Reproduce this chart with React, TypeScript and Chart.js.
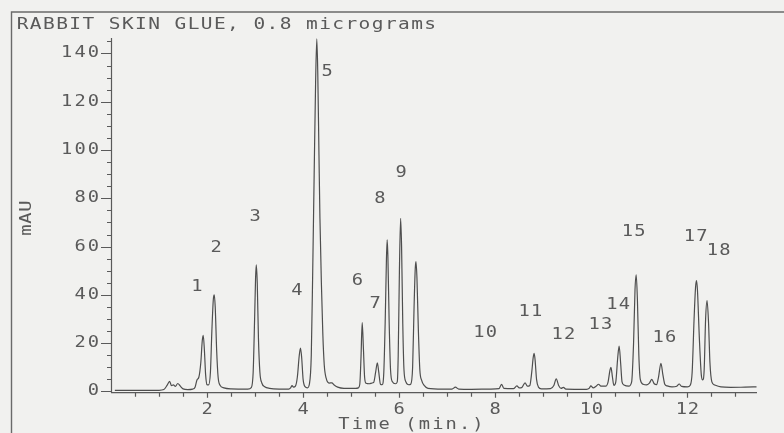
import { useEffect, useRef } from 'react';
import { Chart, registerables } from 'chart.js';

Chart.register(...registerables);

const titleText = 'RABBIT SKIN GLUE, 0.8 micrograms';
const xAxisTitle = 'Time (min.)';
const yAxisTitle = 'mAU';

// chromatogram trace: [time (min), absorbance (mAU)]
const trace: [number, number][] = [
  [0.08, 0.5], [1.0, 0.5], [1.1, 0.8], [1.17, 2.6], [1.22, 4.2], [1.26, 2.4], [1.3, 2.7], [1.34, 2.1],
  [1.39, 3.3], [1.44, 2.3], [1.5, 1.1], [1.6, 0.8], [1.7, 1.0], [1.75, 1.8], [1.79, 4.8], [1.83, 6],
  [1.87, 12], [1.9, 21], [1.92, 23.3], [1.945, 17], [1.97, 7], [2.0, 2.8], [2.03, 2.7], [2.07, 8],
  [2.1, 25], [2.13, 38], [2.15, 40], [2.17, 35], [2.2, 17], [2.23, 6], [2.27, 2.6], [2.35, 1.5],
  [2.5, 1.1], [2.85, 1.0], [2.92, 1.6], [2.96, 8], [2.99, 30], [3.01, 47], [3.025, 52.5], [3.045, 45],
  [3.07, 22], [3.1, 8], [3.14, 3.5], [3.2, 2.0], [3.3, 1.3], [3.5, 1.0], [3.7, 1.0], [3.74, 1.5],
  [3.77, 2.4], [3.8, 1.8], [3.84, 2.2], [3.88, 6], [3.92, 15], [3.945, 18], [3.97, 14], [4.0, 5],
  [4.04, 2], [4.09, 1.5], [4.13, 3], [4.17, 15], [4.2, 50], [4.23, 90], [4.26, 128], [4.285, 146],
  [4.305, 132], [4.33, 98], [4.35, 72], [4.38, 45], [4.41, 24], [4.44, 11], [4.48, 5.5], [4.54, 3.5],
  [4.6, 3.6], [4.64, 2.8], [4.72, 1.8], [4.85, 1.3], [5.1, 1.3], [5.15, 1.5], [5.18, 3], [5.205, 14],
  [5.23, 28.5], [5.255, 18], [5.28, 6], [5.31, 3.4], [5.38, 3.2], [5.43, 3.5], [5.47, 3.8], [5.51, 8],
  [5.545, 11.9], [5.575, 8], [5.61, 3], [5.645, 2.8], [5.68, 8], [5.71, 30], [5.735, 55], [5.75, 62.8],
  [5.765, 56], [5.79, 30], [5.82, 9], [5.86, 4], [5.92, 3.2], [5.96, 4], [5.98, 15], [6.005, 50],
  [6.03, 71.7], [6.05, 60], [6.075, 28], [6.1, 9], [6.14, 4], [6.2, 2.8], [6.24, 3], [6.28, 10],
  [6.31, 35], [6.335, 51], [6.35, 53.8], [6.37, 47], [6.4, 25], [6.43, 9], [6.47, 4.5], [6.52, 2.5],
  [6.6, 1.3], [6.9, 1.0], [7.1, 1.0], [7.17, 1.8], [7.24, 1.0], [7.5, 0.9], [7.9, 1.0], [8.08, 1.2],
  [8.13, 3.0], [8.18, 1.3], [8.38, 1.2], [8.45, 2.3], [8.5, 1.5], [8.56, 1.8], [8.62, 3.6], [8.67, 2.2],
  [8.72, 2.5], [8.76, 8], [8.79, 14], [8.81, 15.8], [8.83, 13], [8.86, 5], [8.9, 1.8], [8.96, 1.1],
  [9.15, 1.2], [9.22, 2.5], [9.27, 5.2], [9.32, 2.5], [9.37, 1.3], [9.42, 1.7], [9.47, 1.0], [9.9, 0.9],
  [9.96, 1.4], [9.99, 2.3], [10.04, 1.5], [10.1, 2.2], [10.15, 3.0], [10.2, 2.2], [10.3, 2.2], [10.35, 4],
  [10.39, 9], [10.41, 10], [10.44, 6], [10.47, 2.5], [10.51, 4], [10.55, 14], [10.58, 18.8], [10.61, 12],
  [10.64, 4], [10.68, 2.7], [10.78, 2.2], [10.84, 4], [10.88, 20], [10.91, 42], [10.935, 48.3], [10.96, 38],
  [10.99, 15], [11.02, 5], [11.08, 3], [11.15, 2.7], [11.21, 3.5], [11.26, 5], [11.31, 3.2], [11.36, 2.8],
  [11.4, 6], [11.45, 11.7], [11.49, 7], [11.53, 3], [11.58, 2.3], [11.68, 1.9], [11.78, 2.2], [11.83, 3.1],
  [11.88, 2.1], [12.0, 1.9], [12.06, 2.6], [12.1, 8], [12.14, 30], [12.17, 43], [12.19, 45.9], [12.21, 42],
  [12.25, 22], [12.29, 7], [12.32, 4.8], [12.35, 9], [12.38, 30], [12.41, 37.6], [12.44, 29], [12.47, 12],
  [12.51, 4], [12.57, 2.7], [12.7, 1.9], [12.9, 1.7], [13.2, 1.8], [13.44, 1.9],
];

const xTickValues = [2, 4, 6, 8, 10, 12];
const xMinorTickValues = [0.5, 1, 1.5, 2.5, 3, 3.5, 4.5, 5, 5.5, 6.5, 7, 7.5, 8.5, 9, 9.5, 10.5, 11, 11.5, 12.5, 13];
const yTickValues = [0, 20, 40, 60, 80, 100, 120, 140];
const yMinorTickValues = [5, 10, 15, 25, 30, 35, 45, 50, 55, 65, 70, 75, 85, 90, 95, 105, 110, 115, 125, 130, 135, 145];

const peakNames = ['1', '2', '3', '4', '5', '6', '7', '8', '9', '10', '11', '12', '13', '14', '15', '16', '17', '18'];
const peakLabelTime = [1.79, 2.19, 3.0, 3.87, 4.5, 5.13, 5.5, 5.6, 6.04, 7.79, 8.73, 9.42, 10.19, 10.56, 10.88, 11.52, 12.17, 12.65];
const peakLabelMAU = [43.3, 59.4, 72.4, 41.6, 132.3, 45.8, 36.2, 79.7, 90.6, 24.2, 33, 23.4, 27.5, 35.8, 66.1, 22.2, 64, 58.2];

const BG = '#f1f1ef';
const INK = '#5a5a5a';
const FONT = '15px "DejaVu Sans Mono", monospace';

function spaced(
  ctx: CanvasRenderingContext2D,
  text: string,
  x: number,
  y: number,
  advance: number,
  align: 'left' | 'center' | 'right',
  sx = 1.25,
) {
  const n = text.length;
  let first: number;
  if (align === 'center') first = x - ((n - 1) * advance) / 2;
  else if (align === 'left') first = x + advance / 2;
  else first = x - (n - 1) * advance - advance / 2;
  ctx.textAlign = 'center';
  ctx.textBaseline = 'middle';
  for (let i = 0; i < n; i++) {
    const ch = text[i];
    if (ch === ' ') continue;
    ctx.save();
    ctx.translate(first + i * advance, y);
    ctx.scale(sx, 1);
    ctx.fillText(ch, 0, 0);
    ctx.restore();
  }
}

const plotterPlugin = {
  id: 'plotter',
  beforeDraw(chart: any) {
    const { ctx, width, height } = chart;
    ctx.save();
    ctx.fillStyle = BG;
    ctx.fillRect(0, 0, width, height);
    ctx.strokeStyle = '#6a6a6a';
    ctx.lineWidth = 1.4;
    ctx.beginPath();
    ctx.moveTo(11.5, height);
    ctx.lineTo(11.5, 12);
    ctx.lineTo(width, 12);
    ctx.stroke();
    ctx.restore();
  },
  afterDraw(chart: any) {
    const { ctx } = chart;
    const xs = chart.scales.x;
    const ys = chart.scales.y;
    const { left, right, top, bottom } = chart.chartArea;
    ctx.save();
    ctx.strokeStyle = INK;
    ctx.fillStyle = INK;
    ctx.lineWidth = 1.2;
    ctx.beginPath();
    ctx.moveTo(left + 0.5, top);
    ctx.lineTo(left + 0.5, bottom);
    ctx.lineTo(right, bottom);
    ctx.stroke();
    ctx.beginPath();
    yTickValues.forEach((v) => {
      const p = Math.round(ys.getPixelForValue(v)) + 0.5;
      ctx.moveTo(left - 10, p);
      ctx.lineTo(left, p);
    });
    yMinorTickValues.forEach((v) => {
      const p = Math.round(ys.getPixelForValue(v)) + 0.5;
      ctx.moveTo(left - 4, p);
      ctx.lineTo(left, p);
    });
    xTickValues.forEach((v) => {
      const p = Math.round(xs.getPixelForValue(v)) + 0.5;
      ctx.moveTo(p, bottom);
      ctx.lineTo(p, bottom + 5);
    });
    xMinorTickValues.forEach((v) => {
      const p = Math.round(xs.getPixelForValue(v)) + 0.5;
      ctx.moveTo(p, bottom);
      ctx.lineTo(p, bottom + 4);
    });
    ctx.stroke();

    ctx.font = FONT;
    yTickValues.forEach((v) => {
      spaced(ctx, String(v), left - 11, ys.getPixelForValue(v), 13.3, 'right');
    });
    xTickValues.forEach((v) => {
      spaced(ctx, String(v), xs.getPixelForValue(v), bottom + 17, 12, 'center');
    });
    peakNames.forEach((name, i) => {
      spaced(ctx, name, xs.getPixelForValue(peakLabelTime[i]), ys.getPixelForValue(peakLabelMAU[i]), 12.5, 'center');
    });
    spaced(ctx, titleText, 16, 25, 13.15, 'left', 1.3);
    spaced(ctx, xAxisTitle, 411, bottom + 32, 13.4, 'center', 1.25);
    ctx.save();
    ctx.translate(27, 218);
    ctx.rotate(-Math.PI / 2);
    spaced(ctx, yAxisTitle, 0, 0, 12, 'center', 1.25);
    ctx.restore();
    ctx.restore();
  },
};

export default function App() {
  const ref = useRef<HTMLCanvasElement | null>(null);
  useEffect(() => {
    if (!ref.current) return;
    const chart = new Chart(ref.current, {
      type: 'scatter',
      data: {
        datasets: [
          {
            data: trace.map(([t, v]) => ({ x: t, y: v })),
            showLine: true,
            borderColor: '#4e4e4e',
            borderWidth: 1.2,
            pointRadius: 0,
            cubicInterpolationMode: 'monotone',
            tension: 0.4,
          },
        ],
      },
      options: {
        animation: false,
        responsive: false,
        devicePixelRatio: 1,
        layout: { padding: { left: 111, right: 27, top: 38, bottom: 40.3 } },
        plugins: { legend: { display: false }, tooltip: { enabled: false }, title: { display: false } },
        events: [],
        scales: {
          x: { type: 'linear', min: 0, max: 13.45, display: false },
          y: { type: 'linear', min: -0.5, max: 146.4, display: false },
        },
      },
      plugins: [plotterPlugin],
    } as any);
    return () => chart.destroy();
  }, []);
  return (
    <div style={{ position: 'absolute', left: 0, top: 0, width: 784, height: 433 }}>
      <canvas ref={ref} width={784} height={433} style={{ width: 784, height: 433, display: 'block' }} />
    </div>
  );
}
